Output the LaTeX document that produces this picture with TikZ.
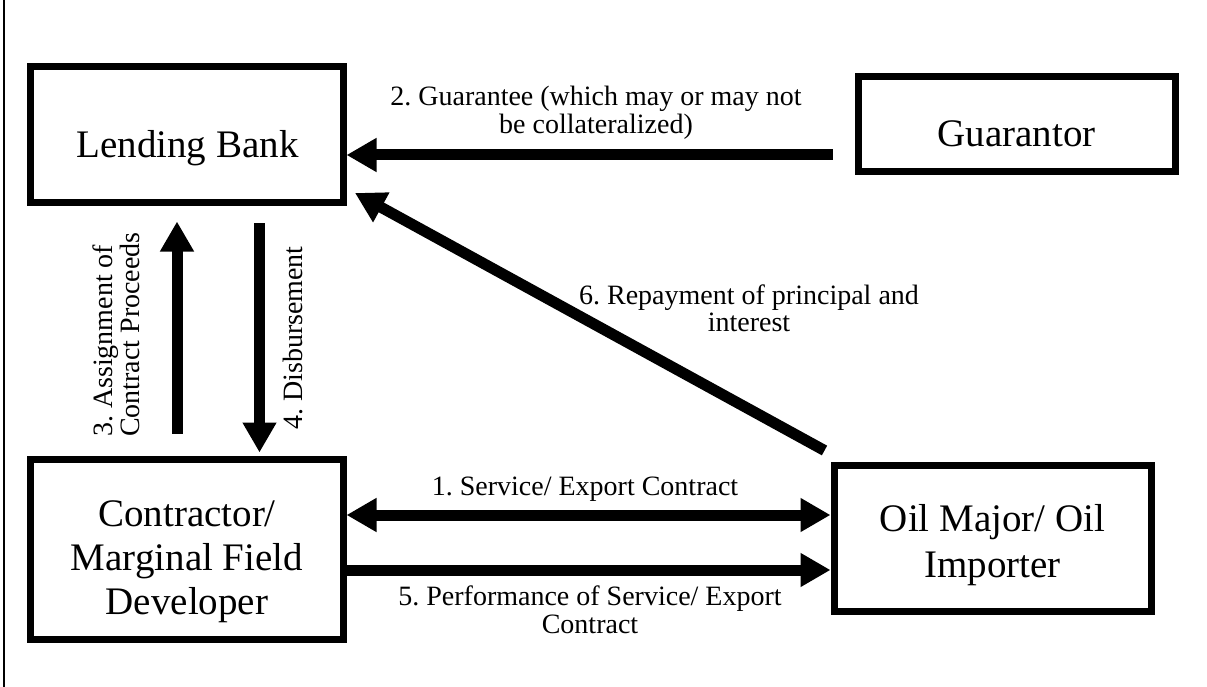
\documentclass[tikz,border=0pt]{standalone}
\usepackage{fontspec}
\setmainfont{Liberation Serif}
\usetikzlibrary{arrows.meta,calc}
\begin{document}
\begin{tikzpicture}[x=1pt,y=-1pt,
  box/.style={draw, line width=7pt, minimum width=313pt, inner sep=0pt},
  arr/.style={line width=11pt, -{Triangle[length=30pt,width=32pt]}},
  darr/.style={line width=11pt, {Triangle[length=30pt,width=32pt]}-{Triangle[length=30pt,width=32pt]}},
  boxtxt/.style={font=\frenchspacing\fontsize{39}{44}\selectfont, align=center, inner sep=0pt},
  lbl/.style={font=\frenchspacing\fontsize{28}{27.5}\selectfont, align=center, inner sep=0pt}]
\useasboundingbox (0,0) rectangle (1207,687);
\draw[line width=1.5pt] (4,0) -- (4,687);

% boxes
\node[box, minimum height=136pt] (lb) at (186.5,135) {};
\node[box, minimum width=317pt, minimum height=95pt] (gu) at (1016.5,124.5) {};
\node[box, minimum height=180pt] (cf) at (186.5,549) {};
\node[box, minimum width=317pt, minimum height=146pt] (om) at (992.5,538) {};

% box texts
\node[boxtxt, anchor=base] (lbt) at (187.5,158) {Lending Bank};
\node[boxtxt, anchor=base] (gut) at (1016.5,147) {Guarantor};
\node[boxtxt] (cft) at (187,561.5) {Contractor/\\Marginal Field\\Developer};
\node[boxtxt, font=\frenchspacing\fontsize{39}{46}\selectfont] (omt) at (992.5,545.5) {Oil Major/ Oil\\Importer};

% connectors
\draw[arr] ([xshift=-22pt,yshift=-30.5pt]gu.west) -- ([yshift=-20pt]lb.east);
\draw[arr] ($(om.north west)+(-6,-11)$) -- ($(lb.south east)+(8.5,-13.5)$);
\draw[arr] ([xshift=-9.5pt,yshift=22pt]cf.north) -- ([xshift=-9.5pt,yshift=-15pt]lb.south);
\draw[arr] ([xshift=73pt,yshift=-17pt]lb.south) -- ([xshift=73pt,yshift=3pt]cf.north);
\draw[darr] ([yshift=34pt]cf.east) -- ([yshift=23pt]om.west);
\draw[arr] ([yshift=-21pt]cf.east) -- ([yshift=-32pt]om.west);

% connector labels
\node[lbl] (l2) at (596,113) {2. Guarantee (which may or may not\\be collateralized)};
\node[lbl] (l6) at (749,308.5) {6. Repayment of principal and\\interest};
\node[lbl, anchor=base] (l1) at (585,495) {1. Service/ Export Contract};
\node[lbl] (l5) at (590,610) {5. Performance of Service/ Export\\Contract};
\node[lbl, rotate=90, align=left, anchor=south west] (l3) at (140,437) {3. Assignment of\\Contract Proceeds};
\node[lbl, rotate=90, anchor=base west] (l4) at (302,430) {4. Disbursement};
\end{tikzpicture}
\end{document}
